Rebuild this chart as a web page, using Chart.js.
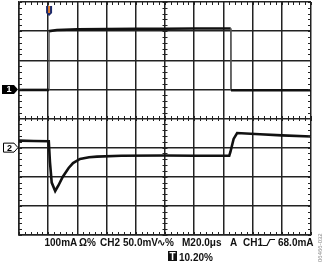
<!DOCTYPE html>
<html>
<head>
<meta charset="utf-8">
<script src="https://cdn.jsdelivr.net/npm/chart.js@4/dist/chart.umd.min.js"></script>
<style>
  html, body { margin: 0; padding: 0; background: #fff; }
  #wrap { width: 325px; height: 266px; }
</style>
</head>
<body>
<div id="wrap"><canvas id="scope"></canvas></div>
<script>
// time in divisions (10 div, 20us/div), level in divisions (8 div)
const ch1Time = [0, 1.03, 1.035, 1.3, 2, 3, 4, 5, 6, 7, 7.25, 7.26, 8, 9, 10];
const ch1Level = [4.98, 4.98, 7.0, 7.04, 7.06, 7.07, 7.08, 7.08, 7.09, 7.09, 7.09, 4.97, 4.97, 4.97, 4.97];

const ch2Time = [0, 0.5, 1.02, 1.06, 1.12, 1.24, 1.35, 1.5, 1.7, 1.85, 2.09, 2.4, 2.67, 3.5, 5, 6, 7.2, 7.24, 7.35, 7.47, 8.25, 9, 10];
const ch2Level = [3.24, 3.23, 3.22, 2.5, 1.8, 1.51, 1.7, 2.0, 2.3, 2.47, 2.61, 2.67, 2.69, 2.72, 2.73, 2.72, 2.72, 2.85, 3.3, 3.5, 3.46, 3.42, 3.38];

const ch1Marker = 5;   // ground reference, divisions
const ch2Marker = 3;
const trigTime = 1.03;

const xTicks = [0, 1, 2, 3, 4, 5, 6, 7, 8, 9, 10];
const yTicks = [0, 1, 2, 3, 4, 5, 6, 7, 8];

const toPoints = (xs, ys) => xs.map((x, i) => ({ x: x, y: ys[i] }));

// fast edges show up as thin faint lines on the scope
const edgeWidth = ctx => {
  const dx = Math.abs(ctx.p1.parsed.x - ctx.p0.parsed.x);
  const dy = Math.abs(ctx.p1.parsed.y - ctx.p0.parsed.y);
  return dx < 0.02 && dy > 1 ? 1 : undefined;
};
const edgeColor = ctx => {
  const dx = Math.abs(ctx.p1.parsed.x - ctx.p0.parsed.x);
  const dy = Math.abs(ctx.p1.parsed.y - ctx.p0.parsed.y);
  return dx < 0.02 && dy > 1 ? "#555" : undefined;
};

const scopeDecor = {
  id: "scopeDecor",
  afterDraw(chart) {
    const { ctx, chartArea: a, scales: { x, y } } = chart;
    ctx.save();
    ctx.strokeStyle = "#222";
    ctx.lineWidth = 1;
    // minor ticks, 5 per division
    const cx = x.getPixelForValue(5), cy = y.getPixelForValue(4);
    for (let v = 0; v <= 10.001; v += 0.2) {
      const px = Math.round(x.getPixelForValue(v)) + 0.5;
      ctx.beginPath();
      ctx.moveTo(px, a.top); ctx.lineTo(px, a.top + 3);
      ctx.moveTo(px, a.bottom); ctx.lineTo(px, a.bottom - 3);
      ctx.moveTo(px, cy - 2.5); ctx.lineTo(px, cy + 2.5);
      ctx.stroke();
    }
    for (let v = 0; v <= 8.001; v += 0.2) {
      const py = Math.round(y.getPixelForValue(v)) + 0.5;
      ctx.beginPath();
      ctx.moveTo(a.left, py); ctx.lineTo(a.left + 3, py);
      ctx.moveTo(a.right, py); ctx.lineTo(a.right - 3, py);
      ctx.moveTo(cx - 2.5, py); ctx.lineTo(cx + 2.5, py);
      ctx.stroke();
    }

    // channel markers
    const m1 = y.getPixelForValue(ch1Marker);
    ctx.fillStyle = "#000";
    ctx.beginPath();
    ctx.moveTo(2, m1 - 4.5); ctx.lineTo(14, m1 - 4.5); ctx.lineTo(18, m1);
    ctx.lineTo(14, m1 + 4.5); ctx.lineTo(2, m1 + 4.5); ctx.closePath();
    ctx.fill();
    ctx.font = "bold 9px 'Liberation Sans', Arial, sans-serif";
    ctx.textAlign = "center";
    ctx.textBaseline = "middle";
    ctx.fillStyle = "#fff";
    ctx.fillText("1", 9, m1 + 0.5);

    const m2 = y.getPixelForValue(ch2Marker);
    ctx.fillStyle = "#fff";
    ctx.strokeStyle = "#000";
    ctx.beginPath();
    ctx.moveTo(3.5, m2 - 4.5); ctx.lineTo(14, m2 - 4.5); ctx.lineTo(18, m2);
    ctx.lineTo(14, m2 + 4.5); ctx.lineTo(3.5, m2 + 4.5); ctx.closePath();
    ctx.fill(); ctx.stroke();
    ctx.fillStyle = "#000";
    ctx.fillText("2", 9.5, m2 + 0.5);

    // trigger position marker
    const tx = x.getPixelForValue(trigTime);
    ctx.fillStyle = "#1c2a6b";
    ctx.beginPath();
    ctx.moveTo(tx - 3, a.top + 4); ctx.lineTo(tx + 3, a.top + 4);
    ctx.lineTo(tx + 3, a.top + 11); ctx.lineTo(tx, a.top + 14);
    ctx.lineTo(tx - 3, a.top + 11); ctx.closePath();
    ctx.fill();
    ctx.fillStyle = "#e07a2a";
    ctx.fillRect(tx - 1, a.top + 4, 2, 7);

    // settings readout
    ctx.font = "bold 10px 'Liberation Sans', Arial, sans-serif";
    ctx.textAlign = "left";
    ctx.textBaseline = "alphabetic";
    ctx.fillStyle = "#111";
    const line1 = [
      ["100mA", 44.5], ["\u03A9%", 79], ["CH2", 100], ["50.0mV", 123],
      ["\u223F%", 157], ["M20.0\u03BCs", 182], ["A", 230], ["CH1", 243], ["68.0mA", 278]
    ];
    line1.forEach(([t, px]) => ctx.fillText(t, px, 246));
    // rising edge symbol
    ctx.strokeStyle = "#111";
    ctx.lineWidth = 1.2;
    ctx.beginPath();
    ctx.moveTo(263, 245.5); ctx.lineTo(267, 245.5); ctx.lineTo(270, 239.5); ctx.lineTo(275, 239.5);
    ctx.stroke();
    // trigger level box
    ctx.fillStyle = "#111";
    ctx.fillRect(168, 251, 9, 10);
    ctx.fillStyle = "#fff";
    ctx.textAlign = "center";
    ctx.fillText("T", 172.5, 260);
    ctx.fillStyle = "#111";
    ctx.textAlign = "left";
    ctx.fillText("10.20%", 179, 261);

    // figure id
    ctx.save();
    ctx.translate(322, 262);
    ctx.rotate(-Math.PI / 2);
    ctx.font = "6px 'Liberation Sans', Arial, sans-serif";
    ctx.fillStyle = "#888";
    ctx.fillText("06466-032", 0, 0);
    ctx.restore();
    ctx.restore();
  }
};

new Chart(document.getElementById("scope"), {
  type: "scatter",
  data: {
    datasets: [
      {
        label: "CH1",
        data: toPoints(ch1Time, ch1Level),
        showLine: true,
        borderColor: "#111",
        borderWidth: 2.6,
        pointRadius: 0,
        segment: { borderWidth: edgeWidth, borderColor: edgeColor }
      },
      {
        label: "CH2",
        data: toPoints(ch2Time, ch2Level),
        showLine: true,
        borderColor: "#111",
        borderWidth: 2.6,
        pointRadius: 0
      }
    ]
  },
  options: {
    responsive: true,
    maintainAspectRatio: false,
    animation: false,
    layout: { padding: { left: 19, top: 2, right: 14, bottom: 31 } },
    plugins: { legend: { display: false }, tooltip: { enabled: false } },
    scales: {
      x: {
        type: "linear",
        min: 0,
        max: 10,
        afterBuildTicks: s => { s.ticks = xTicks.map(v => ({ value: v })); },
        ticks: { display: false },
        grid: { color: "#222", lineWidth: 1.5, drawTicks: false },
        border: { color: "#222", width: 1.5 }
      },
      y: {
        min: 0,
        max: 8,
        afterBuildTicks: s => { s.ticks = yTicks.map(v => ({ value: v })); },
        ticks: { display: false },
        grid: { color: "#222", lineWidth: 1.5, drawTicks: false },
        border: { color: "#222", width: 1.5 }
      }
    }
  },
  plugins: [scopeDecor]
});
</script>
</body>
</html>
